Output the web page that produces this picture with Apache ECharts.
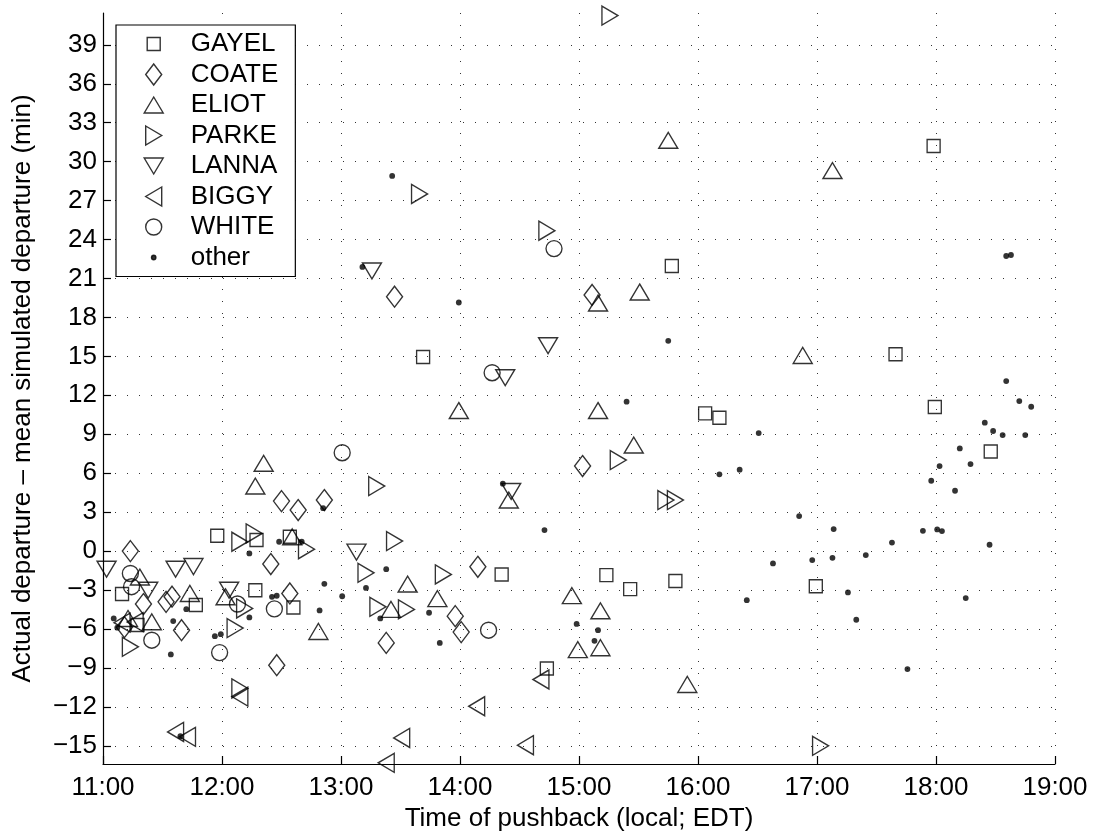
<!DOCTYPE html>
<html>
<head>
<meta charset="utf-8">
<script src="https://cdn.jsdelivr.net/npm/echarts@6/dist/echarts.min.js"></script>
<style>html,body{margin:0;padding:0;background:#fff}#c{width:1095px;height:839px}</style>
</head>
<body>
<div id="c"></div>
<script>
// ---------------- data ----------------
const seriesNames = ['GAYEL', 'COATE', 'ELIOT', 'PARKE', 'LANNA', 'BIGGY', 'WHITE', 'other'];
const xTickValues = [11, 12, 13, 14, 15, 16, 17, 18, 19];
const xTickLabels = ['11:00', '12:00', '13:00', '14:00', '15:00', '16:00', '17:00', '18:00', '19:00'];
const yTickValues = [-15, -12, -9, -6, -3, 0, 3, 6, 9, 12, 15, 18, 21, 24, 27, 30, 33, 36, 39];
const xTitle = 'Time of pushback (local; EDT)';
const yTitle = 'Actual departure \u2013 mean simulated departure (min)';

// [time of pushback (hours, local), actual - mean simulated departure (min)]
const GAYEL = [[11.16,-3.31],[11.29,-5.70],[11.78,-4.16],[11.96,1.18],[12.28,-3.01],[12.29,0.85],[12.57,1.10],[12.60,-4.34],[13.69,14.95],[14.35,-1.80],[14.73,-9.04],[15.23,-1.85],[15.43,-2.93],[15.78,21.96],[15.81,-2.31],[16.06,10.61],[16.18,10.27],[16.99,-2.70],[17.66,15.16],[17.98,31.21],[17.99,11.10],[18.46,7.68]];
const COATE = [[11.23,0.0],[11.18,-5.86],[11.34,-4.08],[11.53,-3.91],[11.58,-3.51],[11.66,-6.09],[12.41,-1.00],[12.46,-8.79],[12.50,3.85],[12.57,-3.26],[12.64,3.16],[12.86,3.93],[13.38,-7.07],[13.45,19.60],[13.96,-5.01],[14.01,-6.24],[14.15,-1.21],[15.03,6.55],[15.11,19.73]];
const ELIOT = [[11.31,-2.00],[11.21,-5.19],[11.41,-5.45],[11.73,-3.26],[12.03,-3.52],[12.28,5.01],[12.35,6.76],[12.59,1.10],[12.81,-6.19],[13.42,-4.49],[13.56,-2.54],[13.81,-3.66],[13.99,10.83],[14.41,3.93],[14.94,-3.43],[14.99,-7.59],[15.16,10.83],[15.16,19.11],[15.18,-4.60],[15.18,-7.44],[15.46,8.17],[15.51,19.96],[15.75,31.64],[15.91,-10.27],[16.88,15.07],[17.13,29.31]];
const PARKE = [[11.23,-7.37],[12.11,-5.93],[12.15,0.72],[12.15,-10.58],[12.19,-4.42],[12.27,1.36],[12.71,0.15],[13.21,-1.67],[13.30,5.01],[13.31,-4.29],[13.45,0.77],[13.55,-4.49],[13.66,27.51],[13.86,-1.80],[14.73,24.68],[15.26,41.25],[15.33,7.01],[15.73,3.93],[15.81,3.93],[17.03,-15.00]];
const LANNA = [[11.03,-1.39],[11.38,-3.01],[11.61,-1.39],[11.76,-1.19],[12.06,-3.01],[13.13,-0.08],[13.26,21.58],[14.38,13.36],[14.43,4.59],[14.74,15.82]];
const BIGGY = [[11.16,-5.51],[11.27,-5.47],[11.61,-13.93],[11.71,-14.31],[12.15,-11.21],[13.38,-16.31],[13.51,-14.39],[14.14,-11.95],[14.55,-14.95],[14.68,-9.89]];
const WHITE = [[11.23,-1.72],[11.24,-2.74],[11.41,-6.86],[11.98,-7.82],[12.13,-4.08],[12.44,-4.45],[13.01,7.58],[14.24,-6.09],[14.27,13.74],[14.79,23.30]];
const OTHER = [[11.09,-5.19],[11.12,-5.90],[11.57,-7.96],[11.59,-5.39],[11.65,-14.26],[11.70,-4.47],[11.94,-6.55],[11.99,-6.40],[12.23,-0.18],[12.23,-5.11],[12.42,-3.52],[12.46,-3.44],[12.48,0.72],[12.67,0.72],[12.82,-4.57],[12.85,3.31],[12.86,-2.52],[13.01,-3.48],[13.18,21.89],[13.21,-2.84],[13.33,-5.19],[13.38,-1.39],[13.43,28.90],[13.74,-4.75],[13.83,-7.07],[13.99,19.15],[14.36,5.19],[14.71,1.62],[14.98,-5.61],[15.13,-6.91],[15.16,-6.09],[15.40,11.51],[15.75,16.20],[16.18,5.91],[16.35,6.27],[16.41,-3.78],[16.51,9.09],[16.63,-0.95],[16.85,2.70],[16.96,-0.69],[17.13,-0.52],[17.14,1.70],[17.26,-3.18],[17.33,-5.29],[17.41,-0.31],[17.63,0.66],[17.76,-9.09],[17.89,1.56],[17.96,5.42],[18.01,1.67],[18.03,6.55],[18.05,1.54],[18.16,4.65],[18.20,7.91],[18.25,-3.62],[18.29,6.70],[18.41,9.89],[18.45,0.49],[18.48,9.25],[18.56,8.94],[18.59,13.10],[18.59,22.73],[18.63,22.81],[18.70,11.56],[18.75,8.94],[18.80,11.12]];

const seriesData = [GAYEL, COATE, ELIOT, PARKE, LANNA, BIGGY, WHITE, OTHER];

// ---------------- styling ----------------
const FONT = '"Liberation Sans", Arial, Helvetica, sans-serif';
const kinds = ['square', 'diamond', 'up', 'right', 'down', 'left', 'circle', 'dot'];

function f(n) { return (Math.round(n * 100) / 100).toString(); }
// marker outline drawn inside a boxW x 22 box, centred at (cx, 11); the leading
// moves fix the bounding box so the marker is not stretched
function shapePath(kind, boxW, cx, dotR) {
  let p = 'M0,0M' + boxW + ',22';
  const L = (x, y) => f(cx + x) + ',' + f(y);
  switch (kind) {
    case 'square': p += 'M' + L(-6.5, 4.5) + 'L' + L(6.5, 4.5) + 'L' + L(6.5, 17.5) + 'L' + L(-6.5, 17.5) + 'Z'; break;
    case 'diamond': p += 'M' + L(0, 0.5) + 'L' + L(8, 11) + 'L' + L(0, 21.5) + 'L' + L(-8, 11) + 'Z'; break;
    case 'up': p += 'M' + L(0, 3) + 'L' + L(9.5, 19) + 'L' + L(-9.5, 19) + 'Z'; break;
    case 'down': p += 'M' + L(-9.5, 3) + 'L' + L(9.5, 3) + 'L' + L(0, 19) + 'Z'; break;
    case 'right': p += 'M' + L(-8, 1.5) + 'L' + L(8, 11) + 'L' + L(-8, 20.5) + 'Z'; break;
    case 'left': p += 'M' + L(8, 1.5) + 'L' + L(-8, 11) + 'L' + L(8, 20.5) + 'Z'; break;
    case 'circle': p += 'M' + L(-8, 11) + 'A8,8 0 1,1 ' + L(8, 11) + 'A8,8 0 1,1 ' + L(-8, 11) + 'Z'; break;
    case 'dot': {
      const r = dotR;
      p += 'M' + L(-r, 11) + 'A' + r + ',' + r + ' 0 1,1 ' + L(r, 11) + 'A' + r + ',' + r + ' 0 1,1 ' + L(-r, 11) + 'Z';
      break;
    }
  }
  return 'path://' + p;
}

const minus = v => (v < 0 ? '\u2212' + Math.abs(v) : String(v));

const chart = echarts.init(document.getElementById('c'), null, { renderer: 'canvas' });
const option = {
  animation: false,
  backgroundColor: '#fff',
  textStyle: { fontFamily: FONT, color: '#000' },
  grid: { left: 103, right: 40, top: 13, bottom: 75, containLabel: false, outerBoundsMode: 'none' },
  xAxis: {
    type: 'value', min: 11, max: 19, interval: 1,
    name: xTitle, nameLocation: 'middle', nameGap: 41,
    nameTextStyle: { fontSize: 26, fontFamily: FONT, color: '#000' },
    axisLine: { show: true, onZero: false, lineStyle: { color: '#000', width: 1.2 } },
    axisTick: { show: true, inside: true, length: 8, lineStyle: { color: '#000', width: 1.2 } },
    axisLabel: { margin: 11, fontSize: 26, fontFamily: FONT, color: '#000',
      formatter: v => xTickLabels[xTickValues.indexOf(v)] || '' },
    splitLine: { show: true, lineStyle: { color: '#333', width: 1, type: [1, 11] } }
  },
  yAxis: {
    type: 'value', min: -16.4, max: 41.45,
    name: yTitle, nameLocation: 'middle', nameGap: 67, nameRotate: 90,
    nameTextStyle: { fontSize: 26, fontFamily: FONT, color: '#000' },
    axisLine: { show: true, onZero: false, lineStyle: { color: '#000', width: 1.2 } },
    axisTick: { show: true, inside: true, length: 8, customValues: yTickValues, lineStyle: { color: '#000', width: 1.2 } },
    axisLabel: { margin: 6, fontSize: 26, fontFamily: FONT, color: '#000', customValues: yTickValues, formatter: minus },
    splitLine: { show: true, lineStyle: { color: '#333', width: 1, type: [1, 11] } }
  },
  legend: {
    orient: 'vertical', left: 116, top: 25,
    padding: [6, 17, 6, 27],
    itemWidth: 42, itemHeight: 22, itemGap: 4.5,
    backgroundColor: '#fff', borderColor: '#000', borderWidth: 1.2,
    selectedMode: false,
    textStyle: { fontSize: 26, fontFamily: FONT, color: '#000' },
    itemStyle: { borderWidth: 1.4, borderColor: '#000' },
    data: seriesNames.map((n, i) => ({ name: n, icon: shapePath(kinds[i], 42, 10, 2.2) }))
  },
  series: seriesNames.map((n, i) => ({
    name: n, type: 'scatter', data: seriesData[i],
    symbol: shapePath(kinds[i], 20, 10, 2.9),
    symbolSize: [20, 22],
    silent: true,
    emphasis: { disabled: true },
    itemStyle: kinds[i] === 'dot'
      ? { color: '#000', borderColor: '#000', borderWidth: 0 }
      : { color: 'rgba(0,0,0,0)', borderColor: '#000', borderWidth: 1.4 }
  }))
};
chart.setOption(option);
</script>
</body>
</html>
